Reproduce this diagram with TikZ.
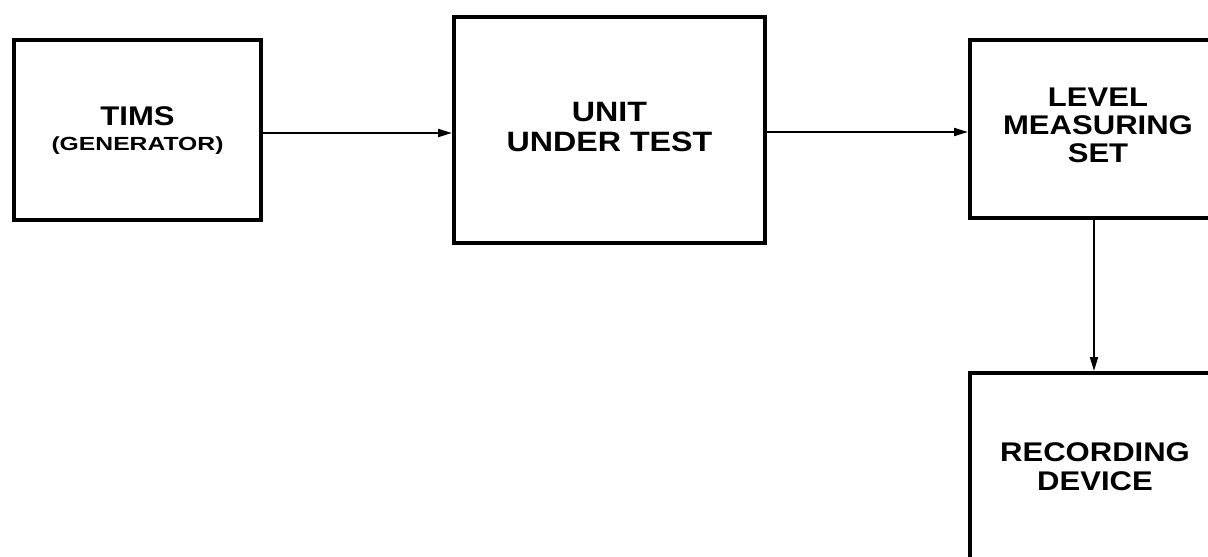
\documentclass[tikz,border=0pt]{standalone}
\usepackage{fontspec}
\setmainfont{Liberation Sans}[FakeStretch=1.15]
\newfontfamily\widefont{Liberation Sans}[FakeStretch=1.3]
\usetikzlibrary{arrows.meta}
\tikzset{
  blk/.style={draw, line width=4pt, rectangle, inner sep=0pt, align=center, font=\bfseries},
  conn/.style={line width=2pt, -{Triangle[length=14pt,width=8pt]}},
  lbl/.style={align=center, inner sep=0pt}
}
\begin{document}
\begin{tikzpicture}[x=1pt,y=-1pt]
\useasboundingbox (0,0) rectangle (1208,557);
\clip (0,0) rectangle (1208,557);
\node[blk, minimum width=247pt, minimum height=180pt] (tims) at (137.5,130) {};
\node[blk, minimum width=311pt, minimum height=226pt] (uut) at (609.5,130) {};
\node[blk, minimum width=256pt, minimum height=178pt] (lms) at (1098,129) {};
\node[blk, minimum width=256pt, minimum height=186pt] (rec) at (1098,466) {};
\node[lbl, font=\bfseries\fontsize{27}{28}\selectfont] (t1) at (137.5,116) {TIMS};
\node[lbl, font=\widefont\bfseries\fontsize{19}{22}\selectfont] (t2) at (137.5,146) {(GENERATOR)};
\node[lbl, font=\bfseries\fontsize{28}{30}\selectfont] (t3) at (609.5,127) {UNIT\\UNDER TEST};
\node[lbl, font=\bfseries\fontsize{27}{28}\selectfont] (t4) at (1098,125) {LEVEL\\MEASURING\\SET};
\node[lbl, font=\bfseries\fontsize{27}{29}\selectfont] (t5) at (1095,467) {RECORDING\\DEVICE};
\draw[conn] (tims.east |- 0,133) coordinate (a1) -- (uut.west |- a1);
\draw[conn] (uut.east |- 0,132) coordinate (a2) -- (lms.west |- a2);
\draw[conn] (lms.south -| 1094,0) coordinate (a3) -- (rec.north -| a3);
\end{tikzpicture}
\end{document}
